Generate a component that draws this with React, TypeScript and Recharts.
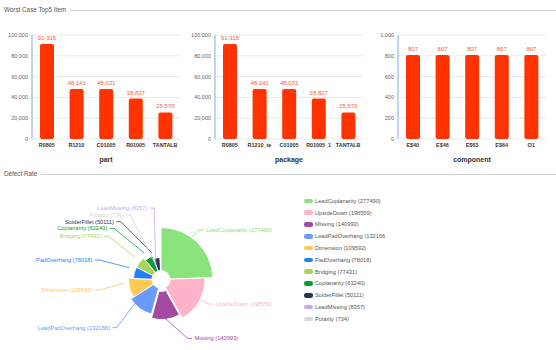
import React from 'react';
import { BarChart, Bar, XAxis, YAxis, CartesianGrid, LabelList, PieChart, Pie, Cell } from 'recharts';

const FONT = '"Liberation Sans", Arial, sans-serif';

// top charts
const partNames = ['R0805', 'R1210', 'C01005', 'R01005', 'TANTALB'];
const partValues = [91315, 48141, 48031, 38827, 25570];
const packageNames = ['R0805', 'R1210_te', 'C01005', 'R01005_1', 'TANTALB'];
const packageValues = [91315, 48141, 48031, 38827, 25570];
const componentNames = ['E$40', 'E$46', 'E$63', 'E$64', 'O1'];
const componentValues = [807, 807, 807, 807, 807];
const countTicks = [0, 20000, 40000, 60000, 80000, 100000];
const componentTicks = [0, 200, 400, 600, 800, 1000];

// defect rate rose
const defectNames = [
  'LeadCoplanarity', 'UpsideDown', 'Missing', 'LeadPadOverhang', 'Dimension', 'PadOverhang',
  'Bridging', 'Coplanarity', 'SolderFillet', 'LeadMissing', 'Polarity',
];
const defectValues = [277490, 198559, 140993, 132166, 109592, 78018, 77431, 63240, 50111, 8357, 734];
const defectColors = [
  '#8ae37d', '#ffb2c8', '#a24ba1', '#6b9bff', '#ffc954', '#2080ff',
  '#a8d45a', '#0e9c3a', '#2d3355', '#c8a8f8', '#d6d6d6',
];
const selectedIndex = 2;

const fmt = (v: number) => v.toLocaleString('en-US');

// pie geometry (inside the pie chart box)
const pieCx = 156;
const pieCy = 94.5;
const innerR = 9;
const maxR = 52;
const explodeOffset = 3;
// labels sit on an oval round the rose
const labelRx = 58;
const labelRyTop = 66.5;
const labelRyBottom = 72;
const len2 = 4.5;
const labelGap = 2.5;
const lineH = 6.8;
const topBound = 0;
const bottomBound = 161.7;

const total = defectValues.reduce((a, b) => a + b, 0);
const maxV = Math.max(...defectValues);
const radii = defectValues.map(v => Math.max(innerR, maxR * Math.sqrt(v / maxV)));
let acc = 0;
const mids = defectValues.map(v => {
  const a0 = acc;
  acc += (v / total) * 360;
  return (a0 + acc) / 2;
});

type LabelItem = { i: number; side: number; ox: number; oy: number; x1: number; y1: number; x2: number; y: number; y0: number };

const ovalX = (it: LabelItem) => {
  const dy = it.y - it.oy;
  const ry = dy < 0 ? labelRyTop : labelRyBottom;
  return it.ox + it.side * labelRx * Math.sqrt(Math.max(0, 1 - (dy * dy) / (ry * ry)));
};

// push overlapping labels apart on each side, then refit them to the oval
const labelLayout: LabelItem[] = (() => {
  const items: LabelItem[] = defectValues.map((_, i) => {
    const t = (mids[i] * Math.PI) / 180;
    const sx = Math.sin(t);
    const sy = -Math.cos(t);
    const off = i === selectedIndex ? explodeOffset : 0;
    const ox = pieCx + off * sx;
    const oy = pieCy + off * sy;
    const ry = sy < 0 ? labelRyTop : labelRyBottom;
    const d = 1 / Math.sqrt((sx / labelRx) ** 2 + (sy / ry) ** 2);
    return {
      i, side: sx < 0 ? -1 : 1, ox, oy,
      x1: ox + radii[i] * sx, y1: oy + radii[i] * sy,
      x2: ox + d * sx, y: oy + d * sy, y0: oy + d * sy,
    };
  });
  [-1, 1].forEach(side => {
    const list = items
      .filter(it => it.side === side)
      .sort((a, b) => (Math.abs(a.y0 - b.y0) < 0.5 ? a.i - b.i : a.y0 - b.y0));
    const n = list.length;
    list.forEach(it => {
      it.y = Math.min(Math.max(it.y, topBound + lineH / 2), bottomBound - lineH / 2);
    });
    for (let k = 1; k < n; k++) list[k].y = Math.max(list[k].y, list[k - 1].y + lineH);
    for (let k = n - 2; k >= 0; k--) list[k].y = Math.min(list[k].y, list[k + 1].y - lineH);
    list.forEach(it => { it.x2 = ovalX(it); });
  });
  return items;
})();

const defectData = defectNames.map((name, i) => ({ name, value: defectValues[i], color: defectColors[i] }));

const renderDefectLabel = (props: any) => {
  const l = labelLayout[props.index];
  if (!l) return null;
  const color = defectColors[l.i];
  const x3 = l.x2 + l.side * len2;
  return (
    <g key={`lbl-${l.i}`}>
      <polyline
        points={`${l.x1},${l.y1} ${l.x2},${l.y} ${x3},${l.y}`}
        fill="none"
        stroke={color}
        strokeWidth={0.8}
      />
      <text
        x={x3 + l.side * labelGap}
        y={l.y}
        textAnchor={l.side < 0 ? 'end' : 'start'}
        dominantBaseline="central"
        fontSize={5.7}
        fontFamily={FONT}
        fill={color}
      >
        {`${defectNames[l.i]} (${defectValues[l.i]})`}
      </text>
    </g>
  );
};

type TopChartProps = {
  left: number;
  width: number;
  axisWidth: number;
  names: string[];
  values: number[];
  ticks: number[];
  title: string;
};

const TopChart = ({ left, width, axisWidth, names, values, ticks, title }: TopChartProps) => {
  const data = names.map((name, i) => ({ name, value: values[i] }));
  return (
    <div style={{ position: 'absolute', left, top: 0 }}>
      <BarChart width={width} height={170} data={data} margin={{ top: 35, right: 0, bottom: 0, left: 0 }} barSize={14}>
        <CartesianGrid vertical={false} stroke="#e8e8e8" />
        <XAxis
          dataKey="name"
          interval={0}
          height={31}
          axisLine={false}
          tickLine={false}
          tickSize={0}
          tickMargin={4}
          tick={{ fontSize: 5.4, fontWeight: 'bold', fill: '#333', fontFamily: FONT }}
          label={{ value: title, position: 'insideBottom', offset: 8, fontSize: 7, fontWeight: 'bold', fill: '#333', fontFamily: FONT }}
        />
        <YAxis
          width={axisWidth}
          domain={[0, ticks[ticks.length - 1]]}
          ticks={ticks}
          interval={0}
          tickFormatter={fmt}
          axisLine={{ stroke: '#a8c9ea', strokeWidth: 1.5 }}
          tickLine={false}
          tickSize={0}
          tickMargin={4}
          tick={{ fontSize: 5.5, fill: '#666', fontFamily: FONT }}
        />
        <Bar dataKey="value" fill="#ff3300" radius={2} isAnimationActive={false}>
          <LabelList dataKey="value" position="top" offset={4} formatter={(v: any) => fmt(Number(v))} fill="#ff5b3b" fontSize={6} fontFamily={FONT} />
        </Bar>
      </BarChart>
    </div>
  );
};

const SectionTitle = ({ top, text, lineLeft }: { top: number; text: string; lineLeft: number }) => (
  <>
    <div style={{ position: 'absolute', left: 4, top: top - 5, fontSize: 6.3, lineHeight: '10px', color: '#555', fontFamily: FONT, whiteSpace: 'nowrap' }}>
      {text}
    </div>
    <div style={{ position: 'absolute', left: lineLeft, right: 0, top, height: 1, background: '#cfcfcf' }} />
  </>
);

export default function App() {
  return (
    <div style={{ position: 'absolute', left: 0, top: 0, width: 556, height: 350, overflow: 'hidden', background: '#fff', fontFamily: FONT }}>
      <SectionTitle top={10} text="Worst Case Top5 Item" lineLeft={70} />
      <TopChart left={0} width={180} axisWidth={32} names={partNames} values={partValues} ticks={countTicks} title="part" />
      <TopChart left={180} width={183} axisWidth={35} names={packageNames} values={packageValues} ticks={countTicks} title="package" />
      <TopChart left={360} width={186} axisWidth={38} names={componentNames} values={componentValues} ticks={componentTicks} title="component" />

      <SectionTitle top={174} text="Defect Rate" lineLeft={41} />
      <div style={{ position: 'absolute', left: 0, top: 180 }}>
        <PieChart width={300} height={170}>
          {defectValues.map((_, i) => {
            const off = i === selectedIndex ? explodeOffset : 0;
            const t = (mids[i] * Math.PI) / 180;
            return (
              <Pie
                key={`slice-${i}`}
                data={defectData}
                dataKey="value"
                cx={pieCx + off * Math.sin(t)}
                cy={pieCy - off * Math.cos(t)}
                innerRadius={innerR}
                outerRadius={radii[i]}
                startAngle={90}
                endAngle={-270}
                isAnimationActive={false}
                labelLine={false}
              >
                {defectData.map((d, j) => (
                  <Cell key={j} fill={j === i ? d.color : 'none'} stroke={j === i ? '#fff' : 'none'} strokeWidth={1} />
                ))}
              </Pie>
            );
          })}
          <Pie
            data={defectData}
            dataKey="value"
            cx={pieCx}
            cy={pieCy}
            innerRadius={innerR}
            outerRadius={maxR}
            startAngle={90}
            endAngle={-270}
            isAnimationActive={false}
            label={renderDefectLabel}
            labelLine={false}
          >
            {defectData.map((_, j) => (
              <Cell key={j} fill="none" stroke="none" />
            ))}
          </Pie>
        </PieChart>
      </div>

      <div style={{ position: 'absolute', left: 300, top: 195, width: 85, overflow: 'hidden' }}>
        {defectData.map(d => (
          <div key={d.name} style={{ display: 'flex', alignItems: 'center', height: 11.8, whiteSpace: 'nowrap' }}>
            <span style={{ display: 'inline-block', width: 9, height: 4.5, borderRadius: 2.2, background: d.color, marginLeft: 3.5, marginRight: 2.5, flex: 'none' }} />
            <span style={{ fontSize: 5.7, color: '#555', fontFamily: FONT }}>{`${d.name} (${d.value})`}</span>
          </div>
        ))}
      </div>
    </div>
  );
}
